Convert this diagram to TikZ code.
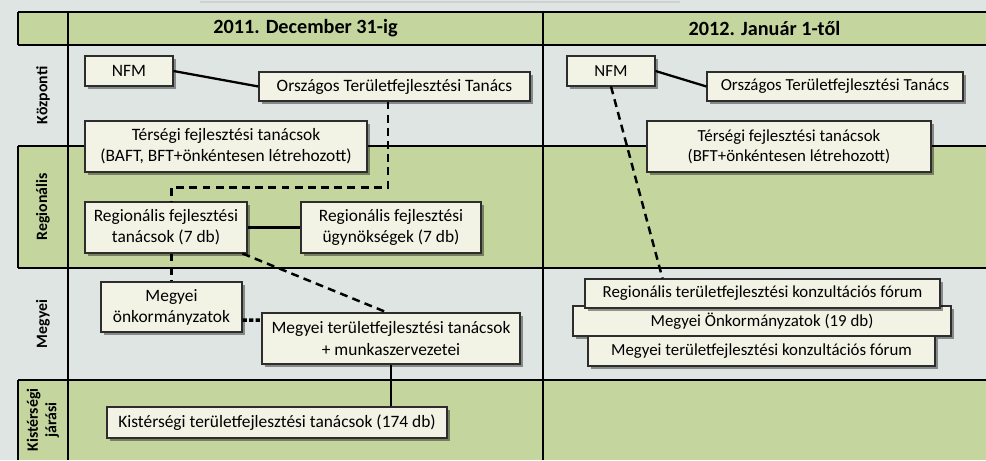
\documentclass[tikz,border=0pt]{standalone}
\usepackage{fontspec}
\setmainfont{Carlito}
\usepackage{tikz}
\usetikzlibrary{positioning, shadows, calc}
\definecolor{paperBg}{RGB}{222,229,227}
\definecolor{rowGreen}{RGB}{196,214,158}
\definecolor{boxFill}{RGB}{242,242,229}
\definecolor{boxEdge}{RGB}{45,45,45}

\begin{document}
\begin{tikzpicture}[
    orgbox/.style={rectangle, draw=boxEdge, line width=0.6pt, fill=boxFill, align=center, inner sep=1pt, font=\fontsize{9.9}{12}\selectfont, drop shadow={shadow xshift=0.06cm, shadow yshift=-0.06cm, opacity=0.4, fill=black}},
    newcol/.style={font=\fontsize{9.6}{11.6}\selectfont},
    hdr/.style={font=\fontsize{11.5}{13}\selectfont\bfseries},
    rowlbl/.style={font=\fontsize{9}{10.5}\selectfont\bfseries, rotate=90, align=center},
    grid/.style={line width=1.1pt, black},
    conn/.style={line width=1.3pt, black},
    dconn/.style={line width=1.4pt, black, dash pattern=on 4.5pt off 3pt},
    ddense/.style={line width=2pt, black, dash pattern=on 2.5pt off 1.2pt},
]

% ========== BACKGROUND + TABLE ==========
\useasboundingbox (0,0) rectangle (19.72,-9.2);
\fill[paperBg] (0,0) rectangle (19.72,-9.2);
\draw[black!18, line width=1pt] (4.0,-0.04) -- (13.6,-0.04);

\fill[rowGreen] (0.36,-0.24) rectangle (19.72,-0.90);
\fill[rowGreen] (0.36,-2.92) rectangle (19.72,-5.36);
\fill[rowGreen] (0.36,-7.60) rectangle (19.72,-9.2);

\foreach \y in {-0.24,-0.90,-2.92,-5.36,-7.60}
    \draw[grid] (0.36,\y) -- (19.72,\y);
\draw[grid] (0.36,-0.24) -- (0.36,-0.90);
\draw[grid] (0.36,-2.92) -- (0.36,-5.36);
\draw[grid] (0.36,-7.60) -- (0.36,-9.2);
\draw[grid] (1.36,-0.24) -- (1.36,-9.2);
\draw[grid] (10.86,-0.24) -- (10.86,-9.2);

% headers
\node[hdr] at (6.11,-0.57) (hdrOld) {2011. December 31-ig};
\node[hdr] at (15.29,-0.57) (hdrNew) {2012. Január 1-től};

% row labels
\node[rowlbl] at (0.86,-1.91) (lblKoz) {Központi};
\node[rowlbl] at (0.86,-4.14) (lblReg) {Regionális};
\node[rowlbl] at (0.86,-6.48) (lblMeg) {Megyei};
\node[rowlbl] at (0.86,-8.40) (lblKis) {Kistérségi\\járási};

% ========== COLUMN 1: 2011 ==========
\node[orgbox, minimum width=1.76cm, minimum height=0.60cm] at (2.58,-1.42) (nfmA) {NFM};
\node[orgbox, minimum width=5.42cm, minimum height=0.58cm] at (7.89,-1.73) (ottA) {Országos Területfejlesztési Tanács};
\node[orgbox, minimum width=5.64cm, minimum height=1.02cm] at (4.52,-2.93) (tersA) {Térségi fejlesztési tanácsok\\(BAFT, BFT+önkéntesen létrehozott)};
\node[orgbox, minimum width=3.24cm, minimum height=1.02cm] at (3.32,-4.55) (rftA) {Regionális fejlesztési\\tanácsok (7 db)};
\node[orgbox, minimum width=3.60cm, minimum height=1.02cm] at (7.82,-4.55) (rfuA) {Regionális fejlesztési\\ügynökségek (7 db)};
\node[orgbox, minimum width=2.82cm, minimum height=1.00cm] at (3.43,-6.14) (mokA) {Megyei\\önkormányzatok};
\node[orgbox, minimum width=5.16cm, minimum height=1.02cm] at (7.82,-6.77) (mttA) {Megyei területfejlesztési tanácsok\\+ munkaszervezetei};
\node[orgbox, minimum width=6.80cm, minimum height=0.62cm] at (5.54,-8.45) (kttA) {Kistérségi területfejlesztési tanácsok (174 db)};

\draw[conn] (nfmA.east) -- (ottA.west);
\draw[dconn] ([xshift=-0.13cm]ottA.south) -- ++(0,-1.72) -| (mokA.north |- rftA.north);
\draw[conn] (rftA.east) -- (rfuA.west);
\draw[dconn] (mokA.north |- rftA.south) -- (mokA.north);
\draw[dconn] ([xshift=-0.1cm]rftA.south east) -- ([xshift=-0.08cm]mttA.north);
\draw[ddense] ([yshift=-0.26cm]mokA.east) -- ([yshift=0.37cm]mttA.west);
\draw[conn] (mttA.south) -- (mttA.south |- kttA.north);

% ========== COLUMN 2: 2012 ==========
\node[orgbox, newcol, minimum width=1.76cm, minimum height=0.60cm] at (12.22,-1.42) (nfmB) {NFM};
\node[orgbox, newcol, minimum width=5.12cm, minimum height=0.58cm] at (16.70,-1.73) (ottB) {Országos Területfejlesztési Tanács};
\node[orgbox, newcol, minimum width=5.68cm, minimum height=1.02cm] at (15.78,-2.93) (tersB) {Térségi fejlesztési tanácsok\\(BFT+önkéntesen létrehozott)};
\node[orgbox, newcol, minimum width=7.56cm, minimum height=0.60cm] at (15.24,-6.42) (mokB) {Megyei Önkormányzatok (19 db)};
\node[orgbox, newcol, minimum width=7.10cm, minimum height=0.58cm] at (15.25,-5.87) (rkfB) {Regionális területfejlesztési konzultációs fórum};
\node[orgbox, newcol, minimum width=6.94cm, minimum height=0.60cm] at (15.23,-7.02) (mkfB) {Megyei területfejlesztési konzultációs fórum};

\draw[conn] (nfmB.east) -- (ottB.west);
\draw[dconn] (nfmB.south) -- ([xshift=-2cm]rkfB.north);

\end{tikzpicture}
\end{document}
